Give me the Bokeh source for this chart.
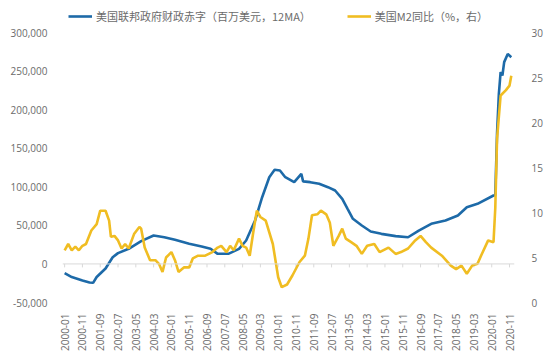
import math
from bokeh.plotting import figure
from bokeh.models import (Range1d, LinearAxis, Span, Legend, LegendItem,
                          NumeralTickFormatter, FixedTicker, ColumnDataSource)
from bokeh.embed import file_html
from bokeh.resources import INLINE

# ---- data ----
deficit_months = ["2000-01", "2000-05", "2000-11", "2001-03", "2001-05", "2001-07", "2001-12",
                  "2002-04", "2002-07", "2003-01", "2003-08", "2004-03", "2004-09", "2005-03",
                  "2005-11", "2006-06", "2006-11", "2007-03", "2007-09", "2008-03", "2008-07",
                  "2008-12", "2009-04", "2009-08", "2009-11", "2010-02", "2010-05", "2010-10",
                  "2011-02", "2011-03", "2011-07", "2011-12", "2012-05", "2012-09", "2013-01",
                  "2013-04", "2013-07", "2013-12", "2014-05", "2014-11", "2015-07", "2016-02",
                  "2016-08", "2017-03", "2017-11", "2018-06", "2018-11", "2019-05", "2020-02",
                  "2020-03", "2020-04", "2020-05", "2020-06", "2020-07", "2020-08", "2020-10",
                  "2020-12"]
deficit_values = [-12000, -17000, -21500, -24000, -24500, -17000, -6000,
                  8700, 14000, 19600, 29500, 36800, 34600, 31300,
                  26100, 22600, 19600, 13100, 13100, 19600, 30400,
                  56300, 86500, 112400, 122000, 121100, 112400, 106000,
                  116800, 107000, 106000, 103900, 99500, 95200, 84400,
                  71400, 58500, 49800, 42000, 39000, 36000, 34600,
                  43300, 52000, 56300, 62800, 73500, 77900, 88700,
                  89000, 170000, 220000, 248600, 244300, 261600, 272200,
                  268000]

m2_months = ["2000-01", "2000-03", "2000-05", "2000-07", "2000-09", "2000-11", "2001-01",
             "2001-04", "2001-07", "2001-09", "2001-12", "2002-02", "2002-03", "2002-05",
             "2002-07", "2002-09", "2002-11", "2003-01", "2003-04", "2003-07", "2003-08",
             "2003-10", "2004-01", "2004-04", "2004-06", "2004-08", "2004-10", "2005-01",
             "2005-03", "2005-05", "2005-08", "2005-11", "2006-01", "2006-04", "2006-08",
             "2006-12", "2007-03", "2007-05", "2007-08", "2007-10", "2007-12", "2008-03",
             "2008-05", "2008-07", "2008-09", "2008-11", "2009-01", "2009-03", "2009-06",
             "2009-10", "2010-01", "2010-03", "2010-06", "2010-09", "2011-01", "2011-04",
             "2011-06", "2011-08", "2011-11", "2012-01", "2012-04", "2012-06", "2012-08",
             "2012-11", "2013-01", "2013-03", "2013-06", "2013-09", "2013-12", "2014-03",
             "2014-07", "2014-10", "2015-03", "2015-07", "2015-10", "2016-02", "2016-06",
             "2016-09", "2016-12", "2017-03", "2017-09", "2018-02", "2018-05", "2018-08",
             "2018-11", "2019-02", "2019-05", "2019-07", "2019-11", "2020-02", "2020-03",
             "2020-04", "2020-06", "2020-09", "2020-11", "2020-12"]
m2_values = [5.8, 6.5, 5.8, 6.2, 5.8, 6.3, 6.5,
             8.0, 8.7, 10.2, 10.2, 9.1, 7.3, 7.4,
             6.9, 6.0, 6.5, 6.0, 7.6, 8.4, 8.2,
             6.1, 4.7, 4.7, 4.3, 3.4, 5.0, 5.6,
             4.7, 3.4, 3.9, 3.9, 4.9, 5.2, 5.2,
             5.6, 6.1, 6.3, 5.6, 6.3, 5.8, 7.1,
             6.3, 6.1, 5.2, 7.8, 10.2, 9.5, 9.1,
             6.5, 2.8, 1.7, 2.0, 3.0, 4.5, 5.2,
             7.1, 9.7, 9.8, 10.2, 9.8, 8.9, 6.3,
             7.4, 8.2, 7.1, 6.7, 6.3, 5.4, 6.3,
             6.5, 5.6, 6.1, 5.4, 5.6, 6.0, 6.9,
             7.4, 6.7, 6.1, 5.2, 4.1, 3.7, 4.1,
             3.2, 4.1, 4.3, 5.2, 6.9, 6.7, 10.5,
             18.2, 23.0, 23.6, 24.1, 25.2]

x_tick_labels = ["2000-01", "2000-11", "2001-09", "2002-07", "2003-05", "2004-03", "2005-01",
                 "2005-11", "2006-09", "2007-07", "2008-05", "2009-03", "2010-01", "2010-11",
                 "2011-09", "2012-07", "2013-05", "2014-03", "2015-01", "2015-11", "2016-09",
                 "2017-07", "2018-05", "2019-03", "2020-01", "2020-11"]
left_ticks = [-50000, 0, 50000, 100000, 150000, 200000, 250000, 300000]
right_ticks = [0, 5, 10, 15, 20, 25, 30]

name_deficit = "美国联邦政府财政赤字（百万美元，12MA）"
name_m2 = "美国M2同比（%，右）"


def midx(s):
    y, m = s.split("-")
    return (int(y) - 2000) * 12 + int(m) - 1


BLUE = "#1d6aa8"
YELLOW = "#f0bd22"
GRAY_TXT = "#6b6b6b"
TICK_FONT = "Open Sans"

# frame extends above the 300,000 tick so the legend can sit inside it
p = figure(output_backend="svg", toolbar_location=None,
           frame_width=452, frame_height=297,
           min_border_left=62, min_border_right=36, min_border_top=5, min_border_bottom=50,
           x_range=Range1d(-1.2, 252.8), y_range=Range1d(-50000, 335000))
p.outline_line_color = None
p.xgrid.visible = False
p.ygrid.visible = False
p.extra_y_ranges = {"m2": Range1d(0, 33)}

# zero line with small tick marks
p.add_layout(Span(location=0, dimension="width", line_color="#d9d9d9", line_width=1))
tick_x = [midx(t) for t in x_tick_labels]
p.segment(x0=tick_x, y0=[0] * len(tick_x), x1=tick_x, y1=[-4500] * len(tick_x),
          line_color="#d9d9d9", line_width=1)

src_d = ColumnDataSource(dict(x=[midx(m) for m in deficit_months], y=deficit_values))
src_m = ColumnDataSource(dict(x=[midx(m) for m in m2_months], y=m2_values))
r_d = p.line("x", "y", source=src_d, line_color=BLUE, line_width=2.6)
r_m = p.line("x", "y", source=src_m, line_color=YELLOW, line_width=2.6, y_range_name="m2")

# axes
xa = p.xaxis[0]
xa.ticker = FixedTicker(ticks=tick_x)
xa.major_label_overrides = {midx(t): t for t in x_tick_labels}
xa.major_label_orientation = math.pi / 2
xa.axis_line_color = None
xa.major_tick_line_color = None
xa.minor_tick_line_color = None
xa.major_label_standoff = 5
xa.major_label_text_font = TICK_FONT
xa.major_label_text_font_size = "10px"
xa.major_label_text_color = GRAY_TXT

ya = p.yaxis[0]
ya.ticker = FixedTicker(ticks=left_ticks)
ya.formatter = NumeralTickFormatter(format="0,0")
ya.axis_line_color = None
ya.major_tick_line_color = None
ya.minor_tick_line_color = None
ya.major_label_standoff = 9
ya.major_label_text_font = TICK_FONT
ya.major_label_text_font_size = "10px"
ya.major_label_text_color = GRAY_TXT

ra = LinearAxis(y_range_name="m2", ticker=FixedTicker(ticks=right_ticks))
ra.axis_line_color = None
ra.major_tick_line_color = None
ra.minor_tick_line_color = None
ra.major_label_standoff = 11
ra.major_label_text_font = TICK_FONT
ra.major_label_text_font_size = "10px"
ra.major_label_text_color = GRAY_TXT
p.add_layout(ra, "right")

legend = Legend(items=[LegendItem(label=name_deficit, renderers=[r_d]),
                       LegendItem(label=name_m2, renderers=[r_m])],
                orientation="horizontal", location=(6, 278))
legend.glyph_width = 24
legend.glyph_height = 12
legend.label_standoff = 4
legend.spacing = 36
legend.padding = 0
legend.margin = 0
legend.border_line_alpha = 0
legend.background_fill_alpha = 0
legend.label_text_font = "Noto Sans CJK SC"
legend.label_text_font_size = "11px"
legend.label_text_color = GRAY_TXT
legend.label_height = 12
p.add_layout(legend)

open("out.html", "w").write(file_html(p, INLINE))
